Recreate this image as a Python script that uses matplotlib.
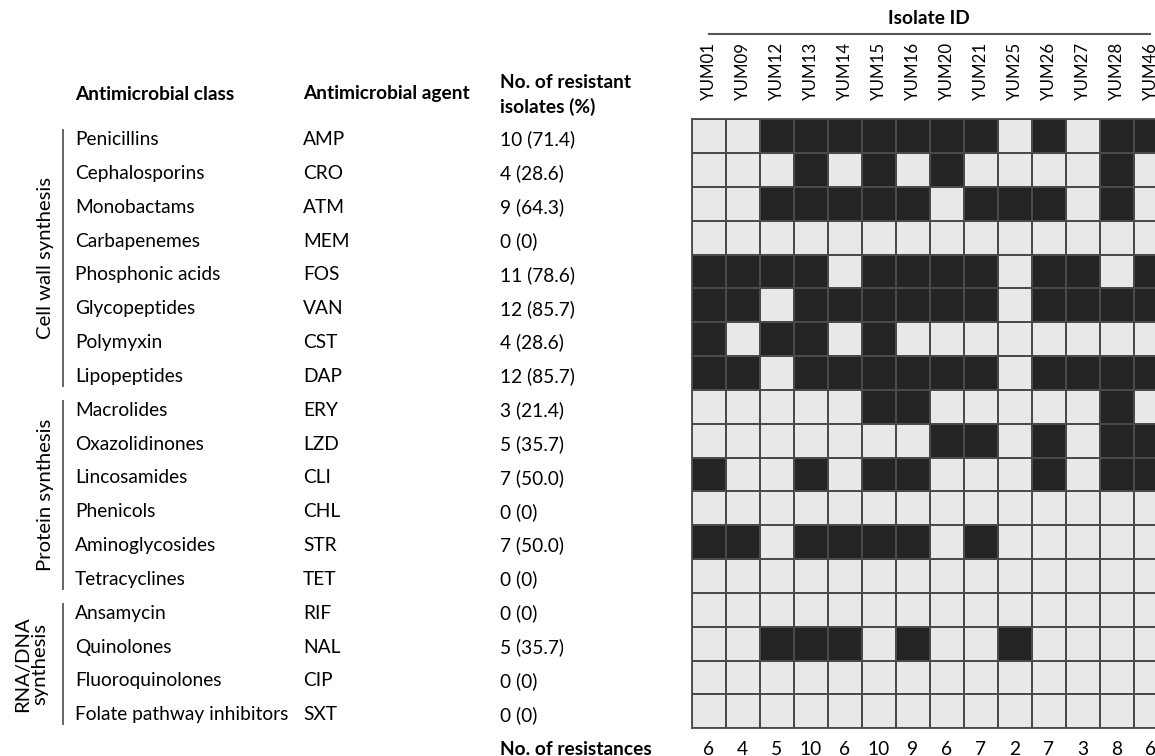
import matplotlib
matplotlib.use('Agg')
import matplotlib.pyplot as plt
import numpy as np
from matplotlib.colors import ListedColormap
import matplotlib.transforms as mtransforms

plt.rcParams['font.family'] = ['Lato', 'DejaVu Sans']

isolates = ['YUM01', 'YUM09', 'YUM12', 'YUM13', 'YUM14', 'YUM15', 'YUM16',
            'YUM20', 'YUM21', 'YUM25', 'YUM26', 'YUM27', 'YUM28', 'YUM46']
classes = ['Penicillins', 'Cephalosporins', 'Monobactams', 'Carbapenemes',
           'Phosphonic acids', 'Glycopeptides', 'Polymyxin', 'Lipopeptides',
           'Macrolides', 'Oxazolidinones', 'Lincosamides', 'Phenicols',
           'Aminoglycosides', 'Tetracyclines', 'Ansamycin', 'Quinolones',
           'Fluoroquinolones', 'Folate pathway inhibitors']
agents = ['AMP', 'CRO', 'ATM', 'MEM', 'FOS', 'VAN', 'CST', 'DAP', 'ERY', 'LZD',
          'CLI', 'CHL', 'STR', 'TET', 'RIF', 'NAL', 'CIP', 'SXT']
resistant = ['10 (71.4)', '4 (28.6)', '9 (64.3)', '0 (0)', '11 (78.6)',
             '12 (85.7)', '4 (28.6)', '12 (85.7)', '3 (21.4)', '5 (35.7)',
             '7 (50.0)', '0 (0)', '7 (50.0)', '0 (0)', '0 (0)', '5 (35.7)',
             '0 (0)', '0 (0)']
group_names = ['Cell wall synthesis', 'Protein synthesis', 'RNA/DNA\nsynthesis']
group_start = [0, 8, 14]
group_end = [8, 14, 18]

# rows = agents, columns = isolates (1 = resistant)
resistance = [
    [0, 0, 1, 1, 1, 1, 1, 1, 1, 0, 1, 0, 1, 1],  # AMP
    [0, 0, 0, 1, 0, 1, 0, 1, 0, 0, 0, 0, 1, 0],  # CRO
    [0, 0, 1, 1, 1, 1, 1, 0, 1, 1, 1, 0, 1, 0],  # ATM
    [0, 0, 0, 0, 0, 0, 0, 0, 0, 0, 0, 0, 0, 0],  # MEM
    [1, 1, 1, 1, 0, 1, 1, 1, 1, 0, 1, 1, 0, 1],  # FOS
    [1, 1, 0, 1, 1, 1, 1, 1, 1, 0, 1, 1, 1, 1],  # VAN
    [1, 0, 1, 1, 0, 1, 0, 0, 0, 0, 0, 0, 0, 0],  # CST
    [1, 1, 0, 1, 1, 1, 1, 1, 1, 0, 1, 1, 1, 1],  # DAP
    [0, 0, 0, 0, 0, 1, 1, 0, 0, 0, 0, 0, 1, 0],  # ERY
    [0, 0, 0, 0, 0, 0, 0, 1, 1, 0, 1, 0, 1, 1],  # LZD
    [1, 0, 0, 1, 0, 1, 1, 0, 0, 0, 1, 0, 1, 1],  # CLI
    [0, 0, 0, 0, 0, 0, 0, 0, 0, 0, 0, 0, 0, 0],  # CHL
    [1, 1, 0, 1, 1, 1, 1, 0, 1, 0, 0, 0, 0, 0],  # STR
    [0, 0, 0, 0, 0, 0, 0, 0, 0, 0, 0, 0, 0, 0],  # TET
    [0, 0, 0, 0, 0, 0, 0, 0, 0, 0, 0, 0, 0, 0],  # RIF
    [0, 0, 1, 1, 1, 0, 1, 0, 0, 1, 0, 0, 0, 0],  # NAL
    [0, 0, 0, 0, 0, 0, 0, 0, 0, 0, 0, 0, 0, 0],  # CIP
    [0, 0, 0, 0, 0, 0, 0, 0, 0, 0, 0, 0, 0, 0],  # SXT
]
counts = [6, 4, 5, 10, 6, 10, 9, 6, 7, 2, 7, 3, 8, 6]

W, H = 1155, 756
FS = 13.8
fig = plt.figure(figsize=(W / 100, H / 100), dpi=100)
fig.patch.set_facecolor('white')


def fx(x):
    return x / W


def fy(y):
    return 1 - y / H


ax = fig.add_axes([fx(691.7), fy(728.3), 476 / W, 609 / H])
data = np.array(resistance)
ax.pcolormesh(data, cmap=ListedColormap(['#e8e8e8', '#242424']), vmin=0, vmax=1,
              edgecolors='#4a4a4a', linewidth=1.3)
ax.set_xlim(0, len(isolates))
ax.set_ylim(len(agents), 0)
ax.set_xticks(np.arange(len(isolates)) + 0.5)
ax.set_xticklabels(isolates, rotation=90, fontsize=12.2)
ax.xaxis.tick_top()
ax.tick_params(axis='x', length=0, pad=14)
ax.set_yticks([])
for s in ax.spines.values():
    s.set_color('#4a4a4a')
    s.set_linewidth(1.3)

trans = mtransforms.blended_transform_factory(fig.transFigure, ax.transData)
nrow = len(agents)
for i in range(nrow):
    yy = i + 0.6
    ax.text(fx(75), yy, classes[i], transform=trans, ha='left', va='center', fontsize=FS)
    ax.text(fx(303), yy, agents[i], transform=trans, ha='left', va='center', fontsize=FS)
    ax.text(fx(500), yy, resistant[i], transform=trans, ha='left', va='center', fontsize=FS)

for name, s, e in zip(group_names, group_start, group_end):
    ax.plot([fx(63), fx(63)], [s + 0.32, e - 0.12], transform=trans, color='#666666',
            lw=1.4, clip_on=False)
    ax.text(fx(31) if '\n' in name else fx(46), (s + e) / 2 + 0.1, name, transform=trans,
            rotation=90, ha='center', va='center', fontsize=14.6, multialignment='center',
            linespacing=1.0)

# headers
fig.text(fx(75), fy(94), 'Antimicrobial class', ha='left', va='center',
         fontsize=FS, fontweight='bold')
fig.text(fx(303), fy(94), 'Antimicrobial agent', ha='left', va='center',
         fontsize=FS, fontweight='bold')
fig.text(fx(500), fy(95), 'No. of resistant\nisolates (%)', ha='left', va='center',
         fontsize=FS, fontweight='bold', linespacing=1.45)
fig.text(fx(929), fy(19), 'Isolate ID', ha='center', va='center',
         fontsize=FS, fontweight='bold')
fig.add_artist(plt.Line2D([fx(709), fx(1150)], [fy(33.5), fy(33.5)],
                          transform=fig.transFigure, color='#555555', lw=1.5))

# bottom counts
ybot = nrow + 0.62
ax.text(fx(500), ybot, 'No. of resistances', transform=trans, ha='left', va='center',
        fontsize=FS, fontweight='bold')
for j, c in enumerate(counts):
    ax.text(j + 0.5, ybot, str(c), ha='center', va='center', fontsize=FS, clip_on=False)

fig.savefig('out.png', dpi=100, facecolor='white')
